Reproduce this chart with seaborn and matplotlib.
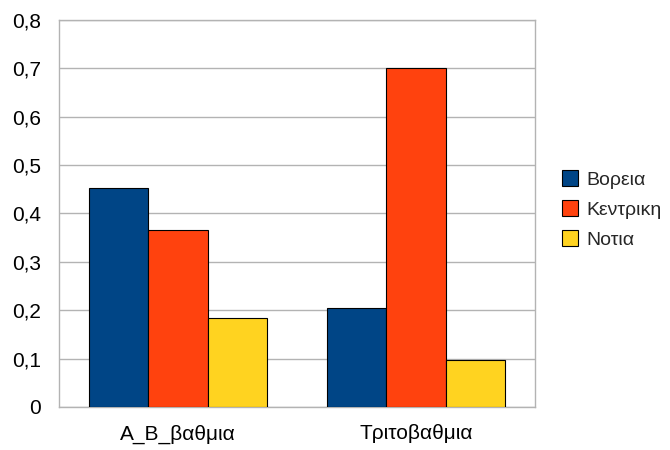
import pandas as pd
import seaborn as sns
import matplotlib.pyplot as plt
from matplotlib.ticker import FuncFormatter, MultipleLocator

categories = ["A_B_βαθμια", "Τριτοβαθμια"]
regions = ["Βορεια", "Κεντρικη", "Νοτια"]
borea = [0.452, 0.204]
kentriki = [0.366, 0.700]
notia = [0.183, 0.097]
colors = ["#004586", "#ff420e", "#ffd320"]

sns.set_theme(style="whitegrid")
plt.rcParams["font.family"] = ["Liberation Sans", "DejaVu Sans"]

rows = []
for name, vals in zip(regions, [borea, kentriki, notia]):
    for cat, v in zip(categories, vals):
        rows.append({"category": cat, "region": name, "value": v})
df = pd.DataFrame(rows)

fig = plt.figure(figsize=(6.7, 4.5), dpi=100)
ax = fig.add_axes([0.088, 0.0956, 0.7105, 0.86])

sns.barplot(
    data=df,
    x="category",
    y="value",
    hue="region",
    hue_order=regions,
    order=categories,
    palette=colors,
    width=0.75,
    edgecolor="black",
    linewidth=0.8,
    saturation=1,
    ax=ax,
    zorder=3,
)

ax.set_ylim(0, 0.8)
ax.set_xlim(-0.5, 1.5)
ax.yaxis.set_major_locator(MultipleLocator(0.1))
ax.yaxis.set_major_formatter(FuncFormatter(lambda v, p: "0" if abs(v) < 1e-9 else f"{v:.1f}".replace(".", ",")))
ax.set_xlabel("")
ax.set_ylabel("")

ax.grid(axis="y", color="#b3b3b3", linewidth=1)
ax.grid(axis="x", visible=False)
for s in ax.spines.values():
    s.set_color("#b3b3b3")
    s.set_linewidth(1)
ax.tick_params(axis="both", which="major", length=8, width=1, color="#b3b3b3",
               labelsize=15, labelcolor="black")
ax.tick_params(axis="x", length=7.5, pad=5)
ax.tick_params(axis="y", length=8, pad=5)
ax.set_axisbelow(True)

handles, labels = ax.get_legend_handles_labels()
ax.legend(handles, labels, loc="center left", bbox_to_anchor=(1.04, 0.51),
          borderaxespad=0, frameon=False, fontsize=14, handlelength=0.82,
          handleheight=0.82, handletextpad=0.45, labelspacing=0.6)

fig.savefig("out.png", dpi=100)
